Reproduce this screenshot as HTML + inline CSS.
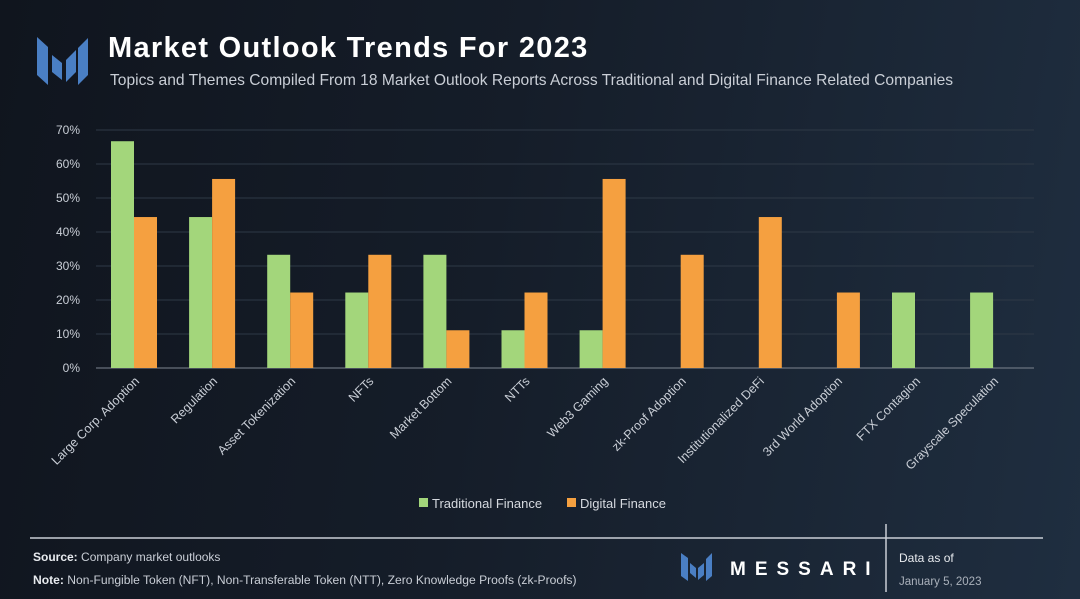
<!DOCTYPE html>
<html><head><meta charset="utf-8"><style>
body{margin:0;width:1080px;height:599px;overflow:hidden;background:linear-gradient(100deg,#10151e 0%,#151d29 45%,#1f2e40 100%);font-family:"Liberation Sans",sans-serif;}
svg{position:absolute;left:0;top:0}
</style></head><body>
<svg width="1080" height="599">
<g fill="#4a7fc4">
<polygon points="37,37 48,47 48,85 37,75"/><polygon points="52,55 62,63 62,80 52,72"/><polygon points="66,60 76,50 76,72 66,82"/><polygon points="78,48 88,38 88,75 78,85"/>
</g>
<text x="108" y="57" fill="#fff" font-size="29" font-weight="bold" letter-spacing="1.3">Market Outlook Trends For 2023</text>
<text x="110" y="85" fill="#c9ced6" font-size="15.6">Topics and Themes Compiled From 18 Market Outlook Reports Across Traditional and Digital Finance Related Companies</text>
<g id="grid"></g><g id="bars"></g><g id="xl"></g>
<g>
<rect x="419" y="498" width="9" height="9" fill="#a3d67b"/>
<text x="432" y="508" fill="#d5d9df" font-size="13">Traditional Finance</text>
<rect x="567" y="498" width="9" height="9" fill="#f5a040"/>
<text x="580" y="508" fill="#d5d9df" font-size="13">Digital Finance</text>
</g>
<line x1="30" y1="538" x2="1043" y2="538" stroke="#c9ced6" stroke-width="1.5"/>
<line x1="886" y1="524" x2="886" y2="592" stroke="#c9ced6" stroke-width="1.5"/>
<text x="33" y="561" fill="#c9ced6" font-size="12"><tspan font-weight="bold" fill="#e8ebef">Source:</tspan> Company market outlooks</text>
<text x="33" y="584" fill="#c9ced6" font-size="12.1"><tspan font-weight="bold" fill="#e8ebef">Note:</tspan> Non-Fungible Token (NFT), Non-Transferable Token (NTT), Zero Knowledge Proofs (zk-Proofs)</text>
<g fill="#4a7fc4">
<polygon points="681,553 688,558 688,581 681,576"/><polygon points="690,563 696,568 696,578 690,573"/><polygon points="698,568 704,563 704,575 698,580"/><polygon points="706,559 712,553 712,576 706,581"/>
</g>
<text x="730" y="575" fill="#fff" font-size="19" font-weight="bold" letter-spacing="9">MESSARI</text>
<text x="899" y="562" fill="#e8ebef" font-size="12">Data as of</text>
<text x="899" y="585" fill="#aab1bb" font-size="11.5">January 5, 2023</text>
</svg>
<script>
const categories=["Large Corp. Adoption","Regulation","Asset Tokenization","NFTs","Market Bottom","NTTs","Web3 Gaming","zk-Proof Adoption","Institutionalized DeFi","3rd World Adoption","FTX Contagion","Grayscale Speculation"];
const traditional=[66.7,44.4,33.3,22.2,33.3,11.1,11.1,0,0,0,22.2,22.2];
const digital=[44.4,55.6,22.2,33.3,11.1,22.2,55.6,33.3,44.4,22.2,0,0];
const yTicks=[0,10,20,30,40,50,60,70];
const NS="http://www.w3.org/2000/svg";
const y=v=>368-v*(238/70);
const xc=i=>134+i*78.1;
const bw=23;
function mk(t,a,p){const e=document.createElementNS(NS,t);for(const k in a)e.setAttribute(k,a[k]);p.appendChild(e);return e;}
const grid=document.getElementById('grid'),bars=document.getElementById('bars'),xl=document.getElementById('xl');
yTicks.forEach(t=>{
const l=mk('line',{x1:96,x2:1034,y1:y(t),y2:y(t),stroke:t==0?'#7d8590':'#2e3946','stroke-width':1},grid);


const tx=mk('text',{x:80,y:y(t)+4,fill:'#c9ced6','font-size':12,'text-anchor':'end'},grid);
tx.textContent=t+'%';


});
categories.forEach((c,i)=>{
const g=mk('rect',{x:xc(i)-bw,y:y(traditional[i]),width:bw,height:368-y(traditional[i]),fill:'#a3d67b'},bars);


const o=mk('rect',{x:xc(i),y:y(digital[i]),width:bw,height:368-y(digital[i]),fill:'#f5a040'},bars);


const t=mk('text',{x:xc(i)+6,y:382,fill:'#c9ced6','font-size':12.5,'text-anchor':'end',transform:`rotate(-45 ${xc(i)+6} 382)`},xl);
t.textContent=c;


});
</script>
</body></html>
